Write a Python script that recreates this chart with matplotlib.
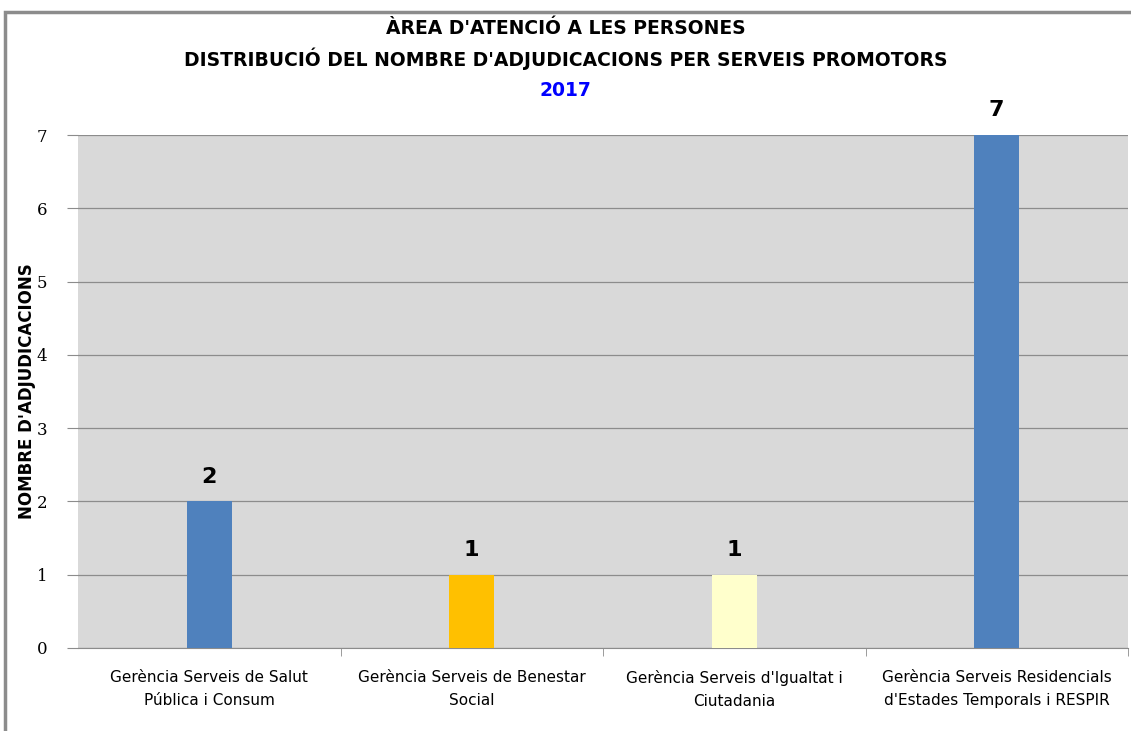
import numpy as np
import matplotlib.pyplot as plt
from matplotlib.patches import Rectangle

#------------------------------ Dades ------------------------------#
categories = ["Gerència Serveis de Salut\nPública i Consum",
              "Gerència Serveis de Benestar\nSocial",
              "Gerència Serveis d'Igualtat i\nCiutadania",
              "Gerència Serveis Residencials\nd'Estades Temporals i RESPIR"]
values = [2, 1, 1, 7]
colors = ["#4F81BD", "#FFC000", "#FFFFCC", "#4F81BD"]
yticks = [0, 1, 2, 3, 4, 5, 6, 7]

#------------------------------ Figura ------------------------------#
fig = plt.figure(figsize=(11.31, 7.31), dpi=100)
fig.patches.append(Rectangle((5 / 1131, -0.1), 2.0, 1.1 - 12 / 731, transform=fig.transFigure,
                             fill=False, edgecolor="#8C8C8C", linewidth=2.5))

ax = fig.add_axes([78 / 1131, 1 - 648 / 731, (1128 - 78) / 1131, (648 - 135) / 731])
ax.set_facecolor("#D9D9D9")
x = np.arange(len(values))
ax.bar(x, values, width=0.17, color=colors, zorder=3)
ax.set_xlim(-0.5, len(values) - 0.5)
ax.set_ylim(0, 7)
ax.set_yticks(yticks)
ax.set_yticklabels([str(v) for v in yticks], fontsize=12, family="DejaVu Serif")
ax.grid(axis="y", color="#8C8C8C", linewidth=0.9, zorder=1)
ax.set_axisbelow(True)

ax.set_xticks(x)
ax.set_xticklabels(categories, fontsize=11, family="DejaVu Sans", linespacing=1.65)
ax.set_xticks(np.arange(0.5, len(values), 1), minor=True)
ax.tick_params(axis="x", which="major", length=0, pad=16)
ax.tick_params(axis="x", which="minor", length=6, color="#8C8C8C")
ax.tick_params(axis="y", length=8, color="#8C8C8C", pad=14)

for s in ["top", "right", "left"]:
    ax.spines[s].set_visible(False)
ax.spines["bottom"].set_color("#8C8C8C")

for i, v in enumerate(values):
    ax.text(i, v + 0.2, str(v), ha="center", va="bottom", fontsize=16, fontweight="bold")

ax.set_ylabel("NOMBRE D'ADJUDICACIONS", fontsize=12, fontweight="bold")
ax.yaxis.set_label_coords(-0.04, 0.5)

fig.text(0.5, 1 - 28 / 731, "ÀREA D'ATENCIÓ A LES PERSONES", ha="center", va="center",
         fontsize=13.5, fontweight="bold", family="Liberation Sans Narrow")
fig.text(0.5, 1 - 59 / 731, "DISTRIBUCIÓ DEL NOMBRE D'ADJUDICACIONS PER SERVEIS PROMOTORS",
         ha="center", va="center", fontsize=13.5, fontweight="bold", family="Liberation Sans Narrow")
fig.text(0.5, 1 - 90 / 731, "2017", ha="center", va="center", fontsize=13.5,
         fontweight="bold", color="#0000FF", family="Liberation Sans Narrow")

fig.savefig("out.png", dpi=100)
